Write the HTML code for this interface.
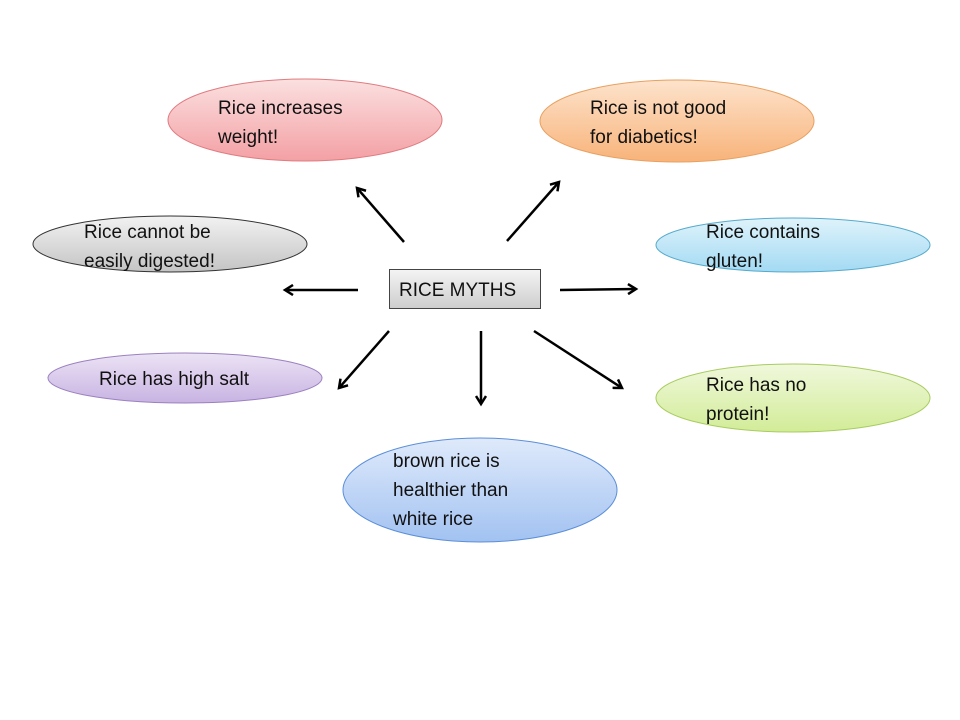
<!DOCTYPE html>
<html><head><meta charset="utf-8"><style>
html,body{margin:0;padding:0;background:#fff;}
svg{display:block;}
text{font-family:"Liberation Sans",sans-serif;font-size:19px;fill:#111;}
</style></head><body>
<svg width="960" height="720" viewBox="0 0 960 720" xmlns="http://www.w3.org/2000/svg">
<defs>
<linearGradient id="red" x1="0" y1="0" x2="0" y2="1"><stop offset="0" stop-color="#fbe0e0"/><stop offset="1" stop-color="#f3a0a4"/></linearGradient>
<linearGradient id="org" x1="0" y1="0" x2="0" y2="1"><stop offset="0" stop-color="#fde3cc"/><stop offset="1" stop-color="#f8b37a"/></linearGradient>
<linearGradient id="gry" x1="0" y1="0" x2="0" y2="1"><stop offset="0" stop-color="#f2f2f2"/><stop offset="1" stop-color="#c4c4c4"/></linearGradient>
<linearGradient id="cyn" x1="0" y1="0" x2="0" y2="1"><stop offset="0" stop-color="#dff3fb"/><stop offset="1" stop-color="#a3daf3"/></linearGradient>
<linearGradient id="pur" x1="0" y1="0" x2="0" y2="1"><stop offset="0" stop-color="#ece3f5"/><stop offset="1" stop-color="#c8b3e2"/></linearGradient>
<linearGradient id="grn" x1="0" y1="0" x2="0" y2="1"><stop offset="0" stop-color="#f0f8dc"/><stop offset="1" stop-color="#d2ec98"/></linearGradient>
<linearGradient id="blu" x1="0" y1="0" x2="0" y2="1"><stop offset="0" stop-color="#dfeafb"/><stop offset="1" stop-color="#a2c2f1"/></linearGradient>
<linearGradient id="box" x1="0" y1="0" x2="0" y2="1"><stop offset="0" stop-color="#f4f4f4"/><stop offset="1" stop-color="#cdcdcd"/></linearGradient>
<marker id="ah" markerWidth="12" markerHeight="12" refX="9" refY="6" orient="auto" markerUnits="userSpaceOnUse">
<path d="M1,1 L9,6 L1,11" fill="none" stroke="#000" stroke-width="2.5"/></marker>
</defs>
<ellipse cx="305" cy="120" rx="137" ry="41" fill="url(#red)" stroke="#e07b80" stroke-width="1"/>
<ellipse cx="677" cy="121" rx="137" ry="41" fill="url(#org)" stroke="#e8a060" stroke-width="1"/>
<ellipse cx="170" cy="244" rx="137" ry="28" fill="url(#gry)" stroke="#333" stroke-width="1"/>
<ellipse cx="793" cy="245" rx="137" ry="27" fill="url(#cyn)" stroke="#55aacc" stroke-width="1"/>
<ellipse cx="185" cy="378" rx="137" ry="25" fill="url(#pur)" stroke="#9a80c0" stroke-width="1"/>
<ellipse cx="793" cy="398" rx="137" ry="34" fill="url(#grn)" stroke="#a8cc60" stroke-width="1"/>
<ellipse cx="480" cy="490" rx="137" ry="52" fill="url(#blu)" stroke="#5b8fd8" stroke-width="1"/>
<rect x="389.5" y="269.5" width="151" height="39" fill="url(#box)" stroke="#444" stroke-width="1"/>
<text x="399" y="296">RICE MYTHS</text>
<text x="218" y="114">Rice increases</text><text x="218" y="143">weight!</text>
<text x="590" y="114">Rice is not good</text><text x="590" y="143">for diabetics!</text>
<text x="84" y="238">Rice cannot be</text><text x="84" y="267">easily digested!</text>
<text x="706" y="238">Rice contains</text><text x="706" y="267">gluten!</text>
<text x="99" y="385">Rice has high salt</text>
<text x="706" y="391">Rice has no</text><text x="706" y="420">protein!</text>
<text x="393" y="467">brown rice is</text><text x="393" y="496">healthier than</text><text x="393" y="525">white rice</text>
<g stroke="#000" stroke-width="2.5" fill="none" marker-end="url(#ah)">
<line x1="404" y1="242" x2="357" y2="188"/>
<line x1="507" y1="241" x2="559" y2="182"/>
<line x1="358" y1="290" x2="285" y2="290"/>
<line x1="560" y1="290" x2="636" y2="289"/>
<line x1="389" y1="331" x2="339" y2="388"/>
<line x1="481" y1="331" x2="481" y2="404"/>
<line x1="534" y1="331" x2="622" y2="388"/>
</g>
</svg>
</body></html>
